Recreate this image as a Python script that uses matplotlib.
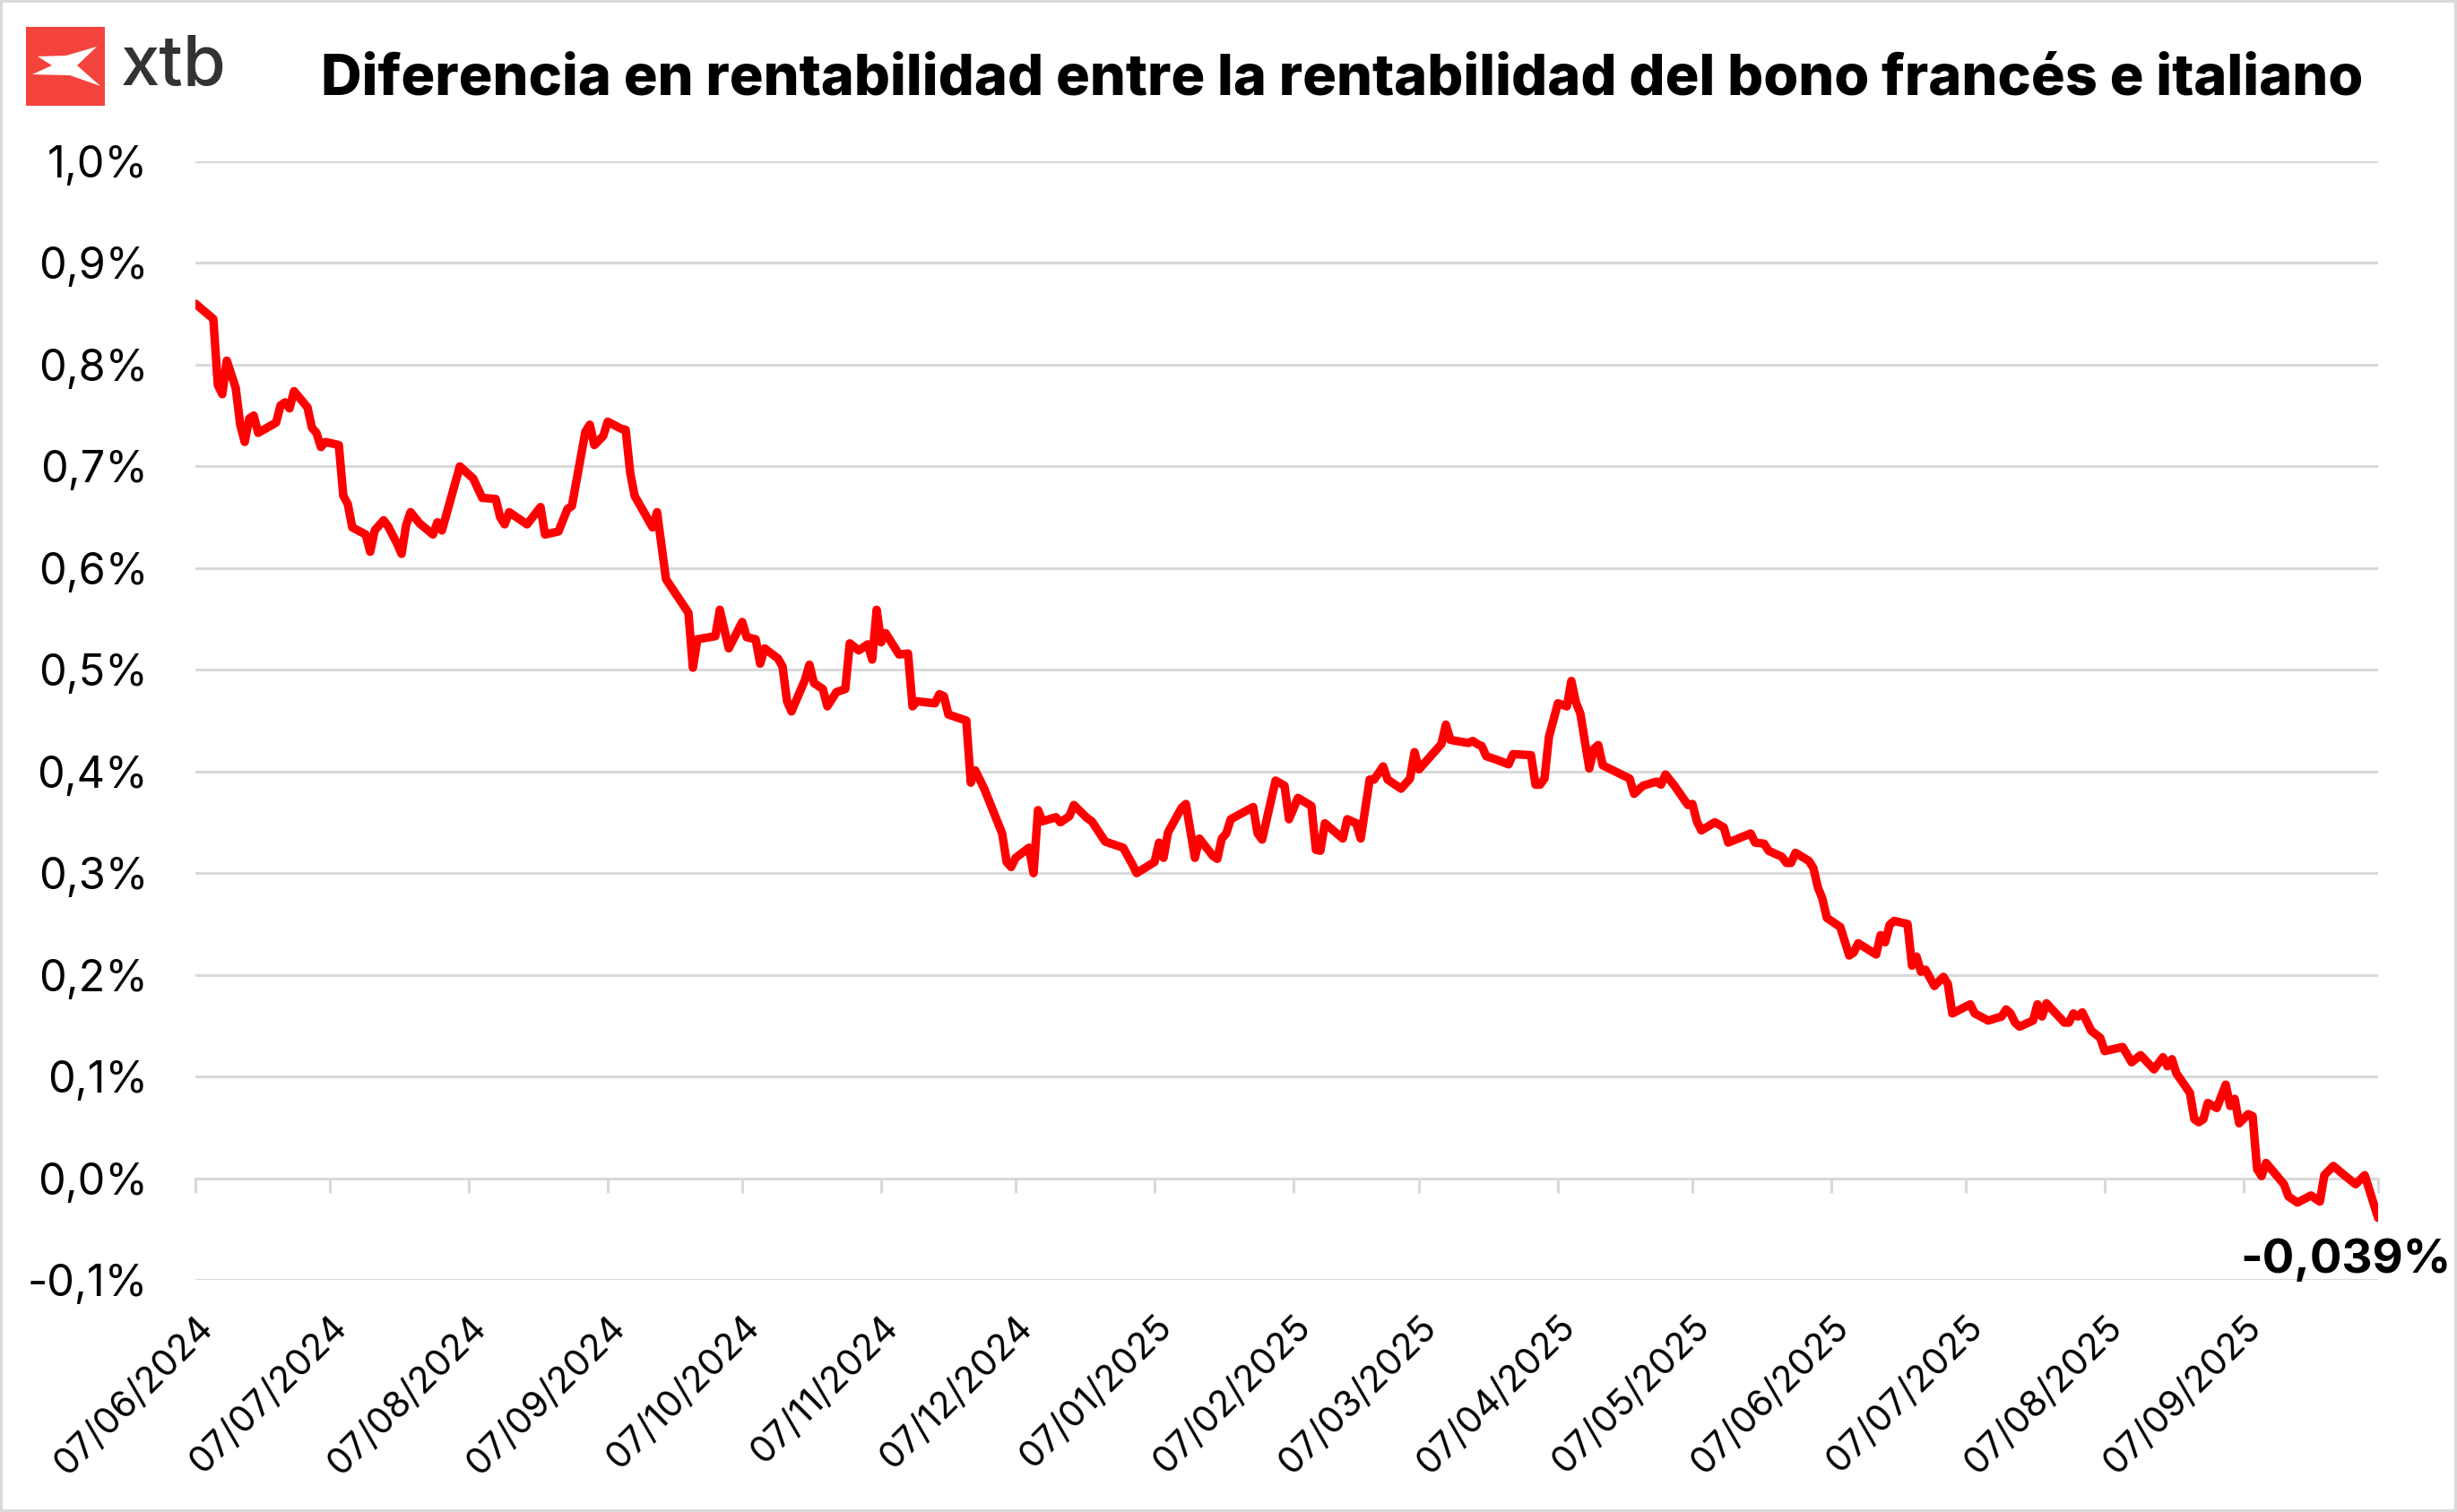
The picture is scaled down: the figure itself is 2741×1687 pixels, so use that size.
import numpy as np
import pandas as pd
import matplotlib
matplotlib.use('Agg')
from matplotlib import pyplot as plt
from matplotlib.patches import Rectangle, Polygon
from matplotlib.ticker import FuncFormatter

plt.rcParams['font.family'] = ['Inter', 'DejaVu Sans']

# spread France - Italy 10y (pp)
start_date = '2024-06-07'
days = [0, 4, 5, 6, 7, 9, 10, 11, 12, 13, 14, 18, 19, 20, 21, 22, 25, 26, 27, 28,
        29, 32, 33, 34, 35, 38, 39, 40, 42, 43, 45, 46, 47, 48, 50, 53, 54, 55, 59, 61,
        62, 64, 67, 68, 69, 70, 74, 77, 78, 81, 82, 83, 84, 87, 88, 89, 91, 92, 95, 96,
        97, 98, 102, 103, 105, 110, 111, 112, 116, 117, 119, 122, 123, 125, 126, 127, 130, 131, 132, 133,
        136, 137, 138, 140, 141, 143, 145, 146, 148, 150, 151, 152, 153, 154, 157, 159, 160, 161, 165, 166,
        167, 168, 172, 173, 174, 176, 180, 181, 182, 183, 186, 187, 188, 189, 192, 193, 195, 196, 199, 200,
        203, 207, 209, 210, 214, 215, 216, 217, 220, 221, 223, 224, 227, 228, 229, 230, 231, 236, 237, 238,
        241, 243, 244, 246, 249, 250, 251, 252, 256, 257, 259, 260, 262, 263, 265, 266, 269, 271, 272, 273,
        278, 279, 280, 284, 285, 286, 287, 288, 290, 293, 294, 298, 299, 300, 301, 302, 304, 306, 307, 308,
        309, 311, 312, 313, 314, 320, 321, 323, 326, 327, 328, 330, 333, 334, 335, 336, 339, 341, 342, 347,
        348, 350, 351, 354, 355, 356, 357, 360, 361, 362, 363, 364, 367, 369, 370, 371, 375, 376, 377, 378,
        379, 382, 383, 384, 385, 386, 388, 390, 391, 392, 396, 397, 400, 403, 404, 405, 406, 407, 410, 411,
        412, 413, 417, 418, 419, 420, 421, 423, 425, 426, 430, 432, 434, 437, 439, 440, 441, 442, 445, 446,
        447, 448, 449, 451, 453, 454, 455, 456, 458, 459, 460, 461, 462, 466, 467, 469, 472, 474, 475, 477,
        480, 482, 484, 487]
spread = [0.860, 0.845, 0.780, 0.771, 0.804, 0.777, 0.741, 0.724, 0.747, 0.750, 0.733, 0.743, 0.760, 0.763, 0.757, 0.774, 0.758, 0.738, 0.733, 0.719,
          0.724, 0.721, 0.671, 0.663, 0.640, 0.633, 0.616, 0.637, 0.647, 0.641, 0.624, 0.614, 0.642, 0.655, 0.644, 0.633, 0.645, 0.637, 0.700, 0.692,
          0.688, 0.669, 0.668, 0.650, 0.643, 0.655, 0.643, 0.660, 0.633, 0.636, 0.647, 0.658, 0.661, 0.734, 0.741, 0.721, 0.730, 0.744, 0.737, 0.736,
          0.694, 0.671, 0.640, 0.655, 0.589, 0.556, 0.502, 0.530, 0.533, 0.559, 0.521, 0.547, 0.532, 0.530, 0.506, 0.521, 0.511, 0.503, 0.469, 0.459,
          0.490, 0.505, 0.487, 0.481, 0.464, 0.478, 0.481, 0.526, 0.519, 0.525, 0.510, 0.559, 0.527, 0.536, 0.515, 0.516, 0.464, 0.469, 0.467, 0.476,
          0.474, 0.456, 0.450, 0.389, 0.401, 0.383, 0.339, 0.311, 0.306, 0.315, 0.325, 0.300, 0.362, 0.351, 0.355, 0.350, 0.356, 0.367, 0.354, 0.351,
          0.331, 0.325, 0.309, 0.300, 0.311, 0.330, 0.315, 0.340, 0.364, 0.368, 0.315, 0.334, 0.317, 0.314, 0.334, 0.339, 0.353, 0.365, 0.339, 0.333,
          0.391, 0.386, 0.353, 0.374, 0.366, 0.323, 0.322, 0.349, 0.334, 0.353, 0.349, 0.334, 0.392, 0.392, 0.405, 0.392, 0.383, 0.393, 0.419, 0.402,
          0.427, 0.446, 0.431, 0.428, 0.430, 0.427, 0.425, 0.415, 0.412, 0.407, 0.417, 0.416, 0.387, 0.387, 0.393, 0.434, 0.467, 0.464, 0.489, 0.468,
          0.457, 0.403, 0.422, 0.426, 0.406, 0.393, 0.378, 0.386, 0.390, 0.387, 0.397, 0.386, 0.367, 0.368, 0.351, 0.342, 0.350, 0.345, 0.330, 0.339,
          0.330, 0.329, 0.322, 0.316, 0.310, 0.310, 0.320, 0.312, 0.305, 0.286, 0.275, 0.256, 0.247, 0.219, 0.222, 0.231, 0.220, 0.239, 0.232, 0.249,
          0.253, 0.250, 0.209, 0.218, 0.203, 0.205, 0.189, 0.198, 0.191, 0.162, 0.171, 0.162, 0.155, 0.159, 0.166, 0.162, 0.153, 0.149, 0.155, 0.171,
          0.159, 0.172, 0.153, 0.153, 0.162, 0.159, 0.163, 0.145, 0.138, 0.125, 0.129, 0.114, 0.121, 0.107, 0.119, 0.110, 0.117, 0.103, 0.084, 0.058,
          0.055, 0.058, 0.074, 0.069, 0.092, 0.071, 0.078, 0.054, 0.063, 0.061, 0.009, 0.002, 0.015, -0.006, -0.018, -0.024, -0.017, -0.023, 0.003, 0.012,
          0.001, -0.006, 0.003, -0.039]

title = 'Diferencia en rentabilidad entre la rentabilidad del bono francés e italiano'
last_label = '-0,039%'
y_ticks = np.round(np.arange(-0.1, 1.01, 0.1), 1)
tick_dates = pd.date_range('2024-06-07', '2025-10-07', freq=pd.DateOffset(months=1))
tick_labels = [d.strftime('%d/%m/%Y') for d in tick_dates[:-1]] + ['']

dates = pd.to_datetime(start_date) + pd.to_timedelta(days, unit='D')

grid_col = '#d9d9d9'
W, H, DPI = 2741, 1687, 200
fig = plt.figure(figsize=(W / DPI, H / DPI), dpi=DPI)
ax = fig.add_axes([218 / W, 1 - 1428 / H, (2653 - 218) / W, (1428 - 180) / H])

ax.plot(dates, spread, color='#ff0000', linewidth=3.4, solid_capstyle='round',
        solid_joinstyle='round', zorder=3)

ax.set_xlim(dates[0], dates[-1])
ax.set_ylim(-0.1, 1.0)
ax.set_yticks(y_ticks)
ax.yaxis.set_major_formatter(FuncFormatter(lambda v, p: f'{v + 0.0:.1f}%'.replace('.', ',')))
ax.grid(axis='y', color=grid_col, linewidth=1.1)
ax.set_axisbelow(True)

for s in ['left', 'right', 'top']:
    ax.spines[s].set_visible(False)
ax.spines['bottom'].set_position(('data', 0))
ax.spines['bottom'].set_color(grid_col)
ax.spines['bottom'].set_linewidth(1.1)

ax.set_xticks(tick_dates)
ax.set_xticklabels(tick_labels)
ax.tick_params(axis='x', length=5.8, width=1.1, color=grid_col, pad=47, labelsize=14.8)
ax.tick_params(axis='y', length=0, pad=19, labelsize=17.5)
plt.setp(ax.get_xticklabels(), rotation=45, ha='right', va='top', rotation_mode='anchor')

ax.annotate(last_label, xy=(dates[-1], spread[-1]), xytext=(-13, -17), textcoords='offset points',
            ha='center', va='center', fontsize=19, fontweight='bold', annotation_clip=False)

# title and xtb logo
fig.text(358 / W, 1 - 89 / H, title, fontsize=22.7, fontweight=800, ha='left', va='center')
fig.patches.append(Rectangle((29 / W, 1 - 118 / H), 88 / W, 88 / H, transform=fig.transFigure,
                             facecolor='#f4433d', edgecolor='none'))
x_shape = [(108, 52), (86, 73), (112, 96), (78, 84), (36, 83), (58, 73), (42, 63), (74, 62)]
fig.patches.append(Polygon([(px / W, 1 - py / H) for px, py in x_shape], closed=True,
                           transform=fig.transFigure, facecolor='white', edgecolor='none'))
fig.text(135 / W, 1 - 95 / H, 'xtb', fontsize=28, fontweight='medium', color='#333333',
         ha='left', va='baseline')

fig.patches.append(Rectangle((0, 0), 1, 1, transform=fig.transFigure, fill=False,
                             edgecolor=grid_col, linewidth=2.2))

fig.savefig('out.png', dpi=DPI)
